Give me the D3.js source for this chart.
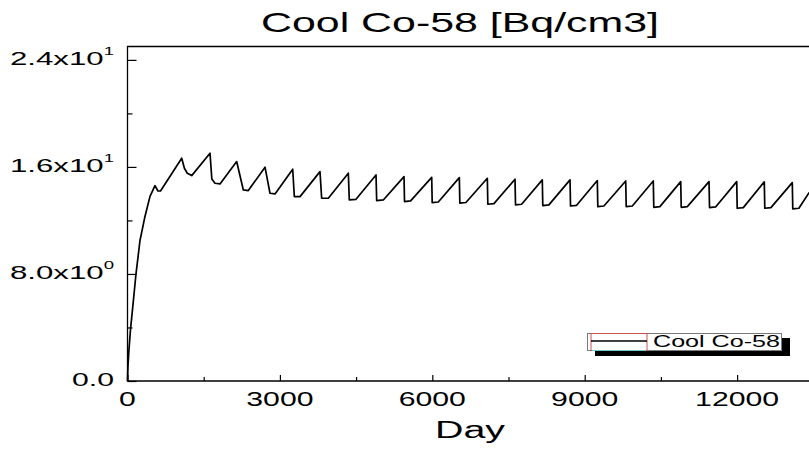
<!DOCTYPE html>
<html>
<head>
<meta charset="utf-8">
<script src="https://cdn.jsdelivr.net/npm/d3@7"></script>
<style>
  html, body { margin: 0; padding: 0; background: #fff; }
  svg { display: block; }
  text { font-family: "Liberation Sans", Arial, sans-serif; fill: #000; }
</style>
</head>
<body>
<svg id="chart" width="809" height="449"></svg>
<script>
// Coolant Co-58 activity over plant lifetime (days)
const days = [
  0, 10, 30, 60, 95, 167, 246, 344, 443, 541, 600, 650,
  1067, 1120, 1177, 1264,
  1624, 1660, 1722, 1821,
  2149, 2280, 2378,
  2707, 2805, 2904,
  3252, 3284, 3396,
  3789, 3822, 3953,
  4347, 4366, 4498,
  4892, 4905, 5036,
  5443, 5453, 5573,
  5988, 5998, 6118,
  6532, 6542, 6662,
  7083, 7093, 7213,
  7628, 7638, 7758,
  8165, 8175, 8295,
  8711, 8721, 8841,
  9248, 9258, 9378,
  9807, 9817, 9937,
  10350, 10360, 10480,
  10890, 10900, 11020,
  11447, 11457, 11577,
  11992, 12002, 12122,
  12535, 12545, 12665,
  13086, 13096, 13216,
  13420
];
const activity = [
  0, 1.2, 2.4, 3.9, 5.2, 8.0, 10.5, 12.3, 13.8, 14.6, 14.2, 14.2,
  16.65, 15.9, 15.53, 15.35,
  17.02, 15.1, 14.78, 14.73,
  16.40, 14.28, 14.23,
  15.98, 14.03, 13.98,
  15.83, 13.78, 13.78,
  15.65, 13.66, 13.66,
  15.53, 13.53, 13.58,
  15.40, 13.48, 13.53,
  15.27, 13.41, 13.46,
  15.22, 13.33, 13.38,
  15.20, 13.29, 13.34,
  15.15, 13.21, 13.26,
  15.08, 13.16, 13.21,
  15.03, 13.11, 13.16,
  15.03, 13.08, 13.13,
  14.98, 13.03, 13.08,
  14.95, 13.03, 13.08,
  14.95, 12.98, 13.03,
  14.90, 12.98, 13.03,
  14.90, 12.96, 13.01,
  14.90, 12.91, 12.96,
  14.88, 12.91, 12.96,
  14.83, 12.86, 12.91,
  14.1
];

const xTickValues = [0, 3000, 6000, 9000, 12000];
const xTickLabels = ["0", "3000", "6000", "9000", "12000"];
const xMinorTicks = [1500, 4500, 7500, 10500, 13500];
const yTickValues = [0, 8, 16, 24];
const yTickMantissa = ["0.0", "8.0x10", "1.6x10", "2.4x10"];
const yTickExponent = ["", "0", "1", "1"];
const yMinorTicks = [4, 12, 20];

const titleText = "Cool Co-58 [Bq/cm3]";
const xAxisTitle = "Day";
const seriesName = "Cool Co-58";

const svg = d3.select("#chart");
const plotLeft = 127.5, plotRight = 812.5, plotTop = 46.5, plotBottom = 381;

const x = d3.scaleLinear().domain([0, 13484]).range([plotLeft, plotRight]);
const y = d3.scaleLinear().domain([0, 25]).range([plotBottom, plotTop]);

// frame
svg.append("path")
  .attr("d", `M${plotLeft},${plotBottom} L${plotLeft},${plotTop} L${plotRight},${plotTop} L${plotRight},${plotBottom} Z`)
  .attr("fill", "none").attr("stroke", "#000").attr("stroke-width", 1.3);

// ticks (pointing into the plot)
const xAxis = svg.append("g").attr("transform", `translate(0,${plotBottom})`)
  .call(d3.axisBottom(x).tickValues(xTickValues).tickSize(-6).tickFormat(""));
const xAxisMinor = svg.append("g").attr("transform", `translate(0,${plotBottom})`)
  .call(d3.axisBottom(x).tickValues(xMinorTicks).tickSize(-4).tickFormat(""));
const yAxis = svg.append("g").attr("transform", `translate(${plotLeft},0)`)
  .call(d3.axisLeft(y).tickValues(yTickValues).tickSize(-9).tickFormat(""));
const yAxisMinor = svg.append("g").attr("transform", `translate(${plotLeft},0)`)
  .call(d3.axisLeft(y).tickValues(yMinorTicks).tickSize(-5).tickFormat(""));
[xAxis, xAxisMinor, yAxis, yAxisMinor].forEach(g => {
  g.select(".domain").remove();
  g.selectAll("line").attr("stroke", "#000").attr("stroke-width", 1.2);
});

// x tick labels
const xLabelWidth = s => s.length * 16.8;
svg.append("g").selectAll("text").data(xTickValues).join("text")
  .attr("x", d => x(d)).attr("y", 405.7)
  .attr("text-anchor", "middle")
  .attr("font-size", 19.5)
  .attr("textLength", (d, i) => xLabelWidth(xTickLabels[i]))
  .attr("lengthAdjust", "spacingAndGlyphs")
  .text((d, i) => xTickLabels[i]);

// y tick labels with superscript exponents
const yl = svg.append("g").selectAll("text").data(yTickValues).join("text")
  .attr("x", 114).attr("y", d => y(d) + 5)
  .attr("text-anchor", "end")
  .attr("font-size", 18.5)
  .attr("textLength", (d, i) => yTickExponent[i] ? 104 : 42)
  .attr("lengthAdjust", "spacingAndGlyphs");
yl.append("tspan").text((d, i) => yTickMantissa[i]);
yl.append("tspan")
  .attr("font-size", 11).attr("dy", -10)
  .text((d, i) => yTickExponent[i]);

// title and axis title
svg.append("text").attr("x", 460).attr("y", 31.5)
  .attr("text-anchor", "middle").attr("font-size", 28)
  .attr("textLength", 398).attr("lengthAdjust", "spacingAndGlyphs")
  .text(titleText);
svg.append("text").attr("x", 470).attr("y", 437.7)
  .attr("text-anchor", "middle").attr("font-size", 23)
  .attr("textLength", 70).attr("lengthAdjust", "spacingAndGlyphs")
  .text(xAxisTitle);

// series line
const pts = days.map((d, i) => [d, activity[i]]);
svg.append("path")
  .datum(pts)
  .attr("fill", "none").attr("stroke", "#000").attr("stroke-width", 1.7)
  .attr("stroke-linejoin", "round")
  .attr("d", d3.line().x(d => x(d[0])).y(d => y(d[1])));

// legend
const lg = svg.append("g");
lg.append("rect").attr("x", 595).attr("y", 338).attr("width", 195).attr("height", 18).attr("fill", "#000");
lg.append("rect").attr("x", 587.5).attr("y", 333.5).attr("width", 194).attr("height", 17)
  .attr("fill", "#fff").attr("stroke", "#7a7a7a").attr("stroke-width", 1);
lg.append("rect").attr("x", 591).attr("y", 333.5).attr("width", 56).attr("height", 17)
  .attr("fill", "none").attr("stroke", "#d05050").attr("stroke-width", 1);
lg.append("line").attr("x1", 592).attr("x2", 646).attr("y1", 350.5).attr("y2", 350.5)
  .attr("stroke", "#66cccc").attr("stroke-width", 1.2);
lg.append("line").attr("x1", 591).attr("x2", 647).attr("y1", 341).attr("y2", 341)
  .attr("stroke", "#000").attr("stroke-width", 1.4);
lg.append("text").attr("x", 653).attr("y", 346.7).attr("font-size", 16.5)
  .attr("textLength", 127).attr("lengthAdjust", "spacingAndGlyphs")
  .text(seriesName);
</script>
</body>
</html>
